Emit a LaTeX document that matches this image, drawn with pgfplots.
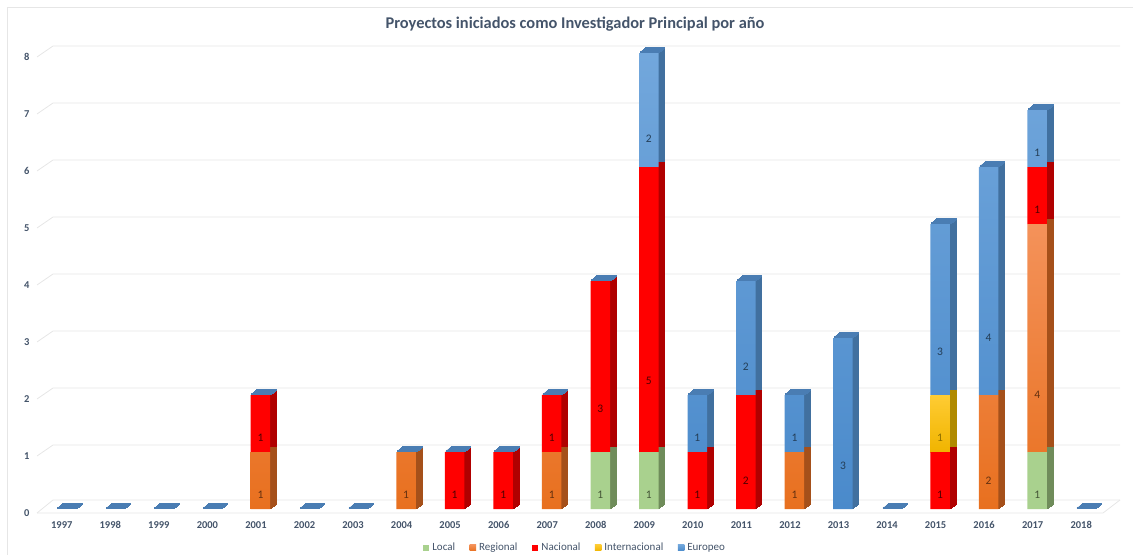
\documentclass[border=0pt]{standalone}
\usepackage{pgfplots}
\pgfplotsset{compat=1.18}
\usepackage{pgfplotstable}
\usepackage{fontspec}
\setmainfont{Carlito}

\definecolor{cLocal}{HTML}{A9D18E}
\definecolor{cRegT}{HTML}{F4925A}
\definecolor{cRegB}{HTML}{E8701F}
\definecolor{cNac}{HTML}{FF0000}
\definecolor{cIntT}{HTML}{FFCC33}
\definecolor{cIntB}{HTML}{F0B400}
\definecolor{cEurT}{HTML}{72A7DC}
\definecolor{cEurB}{HTML}{4A8ACB}
\definecolor{sLocal}{HTML}{6F8C5A}
\definecolor{sReg}{HTML}{A5501A}
\definecolor{sNac}{HTML}{B00000}
\definecolor{sInt}{HTML}{B08A00}
\definecolor{sEur}{HTML}{41709F}
\definecolor{capc}{HTML}{4A7DB3}
\definecolor{txt}{HTML}{44546A}
\definecolor{gridc}{HTML}{E6E6E6}

\pgfplotstableread{
x year local regional nacional internacional europeo cap
0 1997 0 0 0 0 0 0.012
1 1998 0 0 0 0 0 0.012
2 1999 0 0 0 0 0 0.012
3 2000 0 0 0 0 0 0.012
4 2001 0 1 1 0 0 0.012
5 2002 0 0 0 0 0 0.012
6 2003 0 0 0 0 0 0.012
7 2004 0 1 0 0 0 0.012
8 2005 0 0 1 0 0 0.012
9 2006 0 0 1 0 0 0.012
10 2007 0 1 1 0 0 0.012
11 2008 1 0 3 0 0 0.012
12 2009 1 0 5 0 2 0.012
13 2010 0 0 1 0 1 0.012
14 2011 0 0 2 0 2 0.012
15 2012 0 1 0 0 1 0.012
16 2013 0 0 0 0 3 0.012
17 2014 0 0 0 0 0 0.012
18 2015 0 0 1 1 3 0.012
19 2016 0 2 0 0 4 0.012
20 2017 1 4 1 0 1 0.012
21 2018 0 0 0 0 0 0.012
}\data

\pgfplotsset{
  base/.style={
    scale only axis, width=1068pt, height=473.1pt,
    xmin=-0.5, xmax=21.5, ymin=0, ymax=8.3,
    ybar stacked, bar width=19.5pt,
    anchor=south west, clip=false,
  },
}

\newcommand{\backaxis}[2]{%
\begin{axis}[base, at={(42pt+#1,46pt+#2)}, hide axis]
\addplot[fill=sLocal, draw=sLocal, line width=0.6pt] table[x=x,y=local]{\data};
\addplot[fill=sReg, draw=sReg, line width=0.6pt] table[x=x,y=regional]{\data};
\addplot[fill=sNac, draw=sNac, line width=0.6pt] table[x=x,y=nacional]{\data};
\addplot[fill=sInt, draw=sInt, line width=0.6pt] table[x=x,y=internacional]{\data};
\addplot[fill=sEur, draw=sEur, line width=0.6pt] table[x=x,y=europeo]{\data};
\end{axis}}

\newcommand{\capaxis}[2]{%
\begin{axis}[base, at={(42pt+#1,46pt+#2)}, hide axis]
\addplot[draw=none, fill=none] table[x=x,y=local]{\data};
\addplot[draw=none, fill=none] table[x=x,y=regional]{\data};
\addplot[draw=none, fill=none] table[x=x,y=nacional]{\data};
\addplot[draw=none, fill=none] table[x=x,y=internacional]{\data};
\addplot[draw=none, fill=none] table[x=x,y=europeo]{\data};
\addplot[fill=capc, draw=capc, line width=0.5pt] table[x=x,y=cap]{\data};
\end{axis}}

\begin{document}
\begin{tikzpicture}
\useasboundingbox (0,0) rectangle (1133pt,555pt);
% frame (top and left)
\draw[gridc, line width=0.8pt] (7pt,0pt) -- (7pt,548pt) -- (1133pt,548pt);
% title
\node[font=\fontsize{16.4}{19}\selectfont\bfseries, text=txt] at (575pt,531pt)
  {Proyectos iniciados como Investigador Principal por año};
% 3D wall gridlines
\foreach \v in {1,...,8}
  \draw[gridc, line width=0.8pt] (37pt,42pt+57pt*\v) -- (53pt,53pt+57pt*\v) -- (1120pt,53pt+57pt*\v);
% floor
\draw[gridc, line width=0.8pt] (37pt,42pt) -- (53pt,55pt) -- (1120pt,55pt);
\draw[gridc, line width=0.8pt] (37pt,42pt) -- (1103pt,42pt) -- (1120pt,55pt);

% extrusion copies (3D side faces)
\backaxis{1pt}{0.8pt}
\backaxis{2pt}{1.6pt}
\backaxis{3pt}{2.4pt}
\backaxis{4pt}{3.2pt}
\backaxis{5pt}{4pt}
\backaxis{6pt}{4.8pt}
% top faces
\capaxis{1pt}{0.6pt}
\capaxis{2pt}{1.4pt}
\capaxis{3pt}{2.2pt}
\capaxis{4pt}{3pt}
\capaxis{5pt}{3.8pt}
\capaxis{6pt}{4.6pt}

\begin{axis}[base, at={(42pt,46pt)},
  axis x line*=bottom, axis y line*=left,
  x axis line style={draw=none}, y axis line style={draw=none},
  major tick length=0pt,
  /pgf/number format/assume math mode=true,
  xtick={0,...,21},
  xticklabels={1997,1998,1999,2000,2001,2002,2003,2004,2005,2006,2007,2008,2009,2010,2011,2012,2013,2014,2015,2016,2017,2018},
  ytick={0,...,8},
  tick label style={font=\fontsize{10.5}{12}\selectfont\bfseries, text=txt},
  xticklabel style={xshift=-4.5pt, yshift=-9pt},
  yticklabel style={xshift=-9pt, yshift=-4pt},
  point meta=explicit,
  nodes near coords={\pgfmathfloatifflags{\pgfplotspointmeta}{0}{}{\pgfmathprintnumber{\pgfplotspointmeta}}},
  every node near coord/.append style={anchor=center, font=\fontsize{11.5}{13}\selectfont, yshift={-0.25*\segval*57pt}},
  legend style={at={(0.499,-0.082)}, anchor=center, legend columns=-1, draw=none,
    font=\fontsize{11}{13}\selectfont, text=txt,
    /tikz/every even column/.append style={column sep=12.5pt},
    /tikz/every odd column/.append style={column sep=1pt}},
  legend image code/.code={\fill[#1] (0pt,-3.2pt) rectangle (6.5pt,3.2pt);},
]
\addplot[fill=cLocal, draw=none, visualization depends on={\thisrow{local} \as \segval},
  every node near coord/.append style={text=sLocal!60!black}]
  table[x=x,y=local,meta=local]{\data};
\addplot[top color=cRegT, bottom color=cRegB, draw=none, visualization depends on={\thisrow{regional} \as \segval},
  every node near coord/.append style={text=sReg!60!black}]
  table[x=x,y=regional,meta=regional]{\data};
\addplot[fill=cNac, draw=none, visualization depends on={\thisrow{nacional} \as \segval},
  every node near coord/.append style={text=sNac!45!black}]
  table[x=x,y=nacional,meta=nacional]{\data};
\addplot[top color=cIntT, bottom color=cIntB, draw=none, visualization depends on={\thisrow{internacional} \as \segval},
  every node near coord/.append style={text=sInt!80!black}]
  table[x=x,y=internacional,meta=internacional]{\data};
\addplot[top color=cEurT, bottom color=cEurB, draw=none, visualization depends on={\thisrow{europeo} \as \segval},
  every node near coord/.append style={text=sEur!55!black}]
  table[x=x,y=europeo,meta=europeo]{\data};
\legend{Local,Regional,Nacional,Internacional,Europeo}
\end{axis}
\end{tikzpicture}
\end{document}
